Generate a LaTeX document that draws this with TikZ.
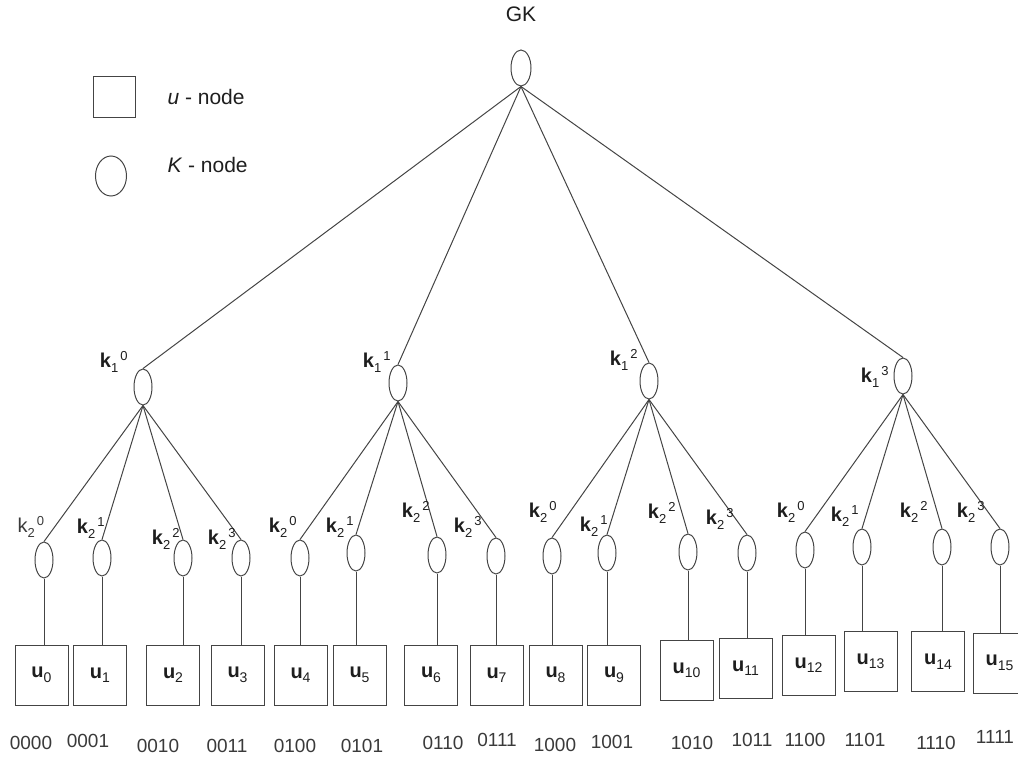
\documentclass[tikz,border=0pt]{standalone}
\usepackage{fontspec}
\setmainfont{Liberation Sans}
\usetikzlibrary{shapes.geometric}
\definecolor{edgegray}{HTML}{444444}
\definecolor{inkgray}{HTML}{1E1E1E}
\definecolor{codegray}{HTML}{3A3A3A}
% key label: k with subscript and superscript set side by side
\newcommand{\klab}[3][\bfseries]{{#1 k}\raisebox{-4.5pt}{\fontsize{13}{13}\selectfont #2}\hspace{2pt}\raisebox{7pt}{\fontsize{13}{13}\selectfont #3}}
% user label: bold u with subscript
\newcommand{\ulab}[1]{{\bfseries u}\raisebox{-4.5pt}{\fontsize{14}{14}\selectfont #1}}
\begin{document}
\begin{tikzpicture}[x=1pt,y=-1pt,
  line width=1pt,
  every node/.style={text=inkgray},
  kell/.style={ellipse, draw=edgegray, minimum width=18pt, minimum height=36pt, inner sep=0pt},
  ubox/.style={draw=edgegray, minimum width=53pt, minimum height=60pt, inner sep=0pt, font=\fontsize{20}{22}\selectfont},
  klabel/.style={font=\fontsize{20}{22}\selectfont, inner sep=0pt},
  code/.style={font=\fontsize{19}{21}\selectfont, text=codegray, inner sep=0pt},
  legtext/.style={font=\fontsize{21}{23}\selectfont, anchor=west, inner sep=0pt},
  link/.style={draw=edgegray}]
\useasboundingbox (0,0) rectangle (1018,758);

% legend
\node[draw=edgegray, minimum width=42pt, minimum height=41pt, inner sep=0pt] (lgbox) at (114,97) {};
\node[legtext] (lgu) at (167,97) {\textit{u} - node};
\node[ellipse, draw=edgegray, minimum width=31pt, minimum height=40pt, inner sep=0pt] (lgell) at (111,176) {};
\node[legtext] (lgk) at (167,165) {\textit{K} - node};

% root
\node[font=\fontsize{21}{23}\selectfont, inner sep=0pt] (gktext) at (521,14) {GK};
\node[kell, minimum width=20pt] (gk) at (521,68) {};

% first level keys
\foreach \n/\x/\y in {0/143/387,1/398/383,2/649/381,3/903/376}{
  \node[kell] (k1\n) at (\x,\y) {};
  \draw[link] (gk.south) -- (k1\n.north);
}
\node[klabel] (lk10) at (111,362) {\klab{1}{0}};
\node[klabel] (lk11) at (374,362) {\klab{1}{1}};
\node[klabel] (lk12) at (621,360) {\klab{1}{2}};
\node[klabel] (lk13) at (872,377) {\klab{1}{3}};

% second level keys
\foreach \i/\p/\x/\y in {0/0/44/560,1/0/102/558,2/0/183/558,3/0/241/558,
                         4/1/300/558,5/1/356/553,6/1/437/555,7/1/496/556,
                         8/2/552/556,9/2/607/553,10/2/688/552,11/2/747/553,
                         12/3/805/550,13/3/862/547,14/3/942/547,15/3/1000/547}{
  \node[kell] (e\i) at (\x,\y) {};
  \draw[link] (k1\p.south) -- (e\i.north);
}
\node[klabel, text=codegray] (l0) at (28,527) {\klab[\mdseries]{2}{0}};
\node[klabel] (l1) at (88,528) {\klab{2}{1}};
\node[klabel] (l2) at (163,539) {\klab{2}{2}};
\node[klabel] (l3) at (219,539) {\klab{2}{3}};
\node[klabel] (l4) at (280,527) {\klab{2}{0}};
\node[klabel] (l5) at (337,527) {\klab{2}{1}};
\node[klabel] (l6) at (413,512) {\klab{2}{2}};
\node[klabel] (l7) at (465,527) {\klab{2}{3}};
\node[klabel] (l8) at (540,512) {\klab{2}{0}};
\node[klabel] (l9) at (591,526) {\klab{2}{1}};
\node[klabel] (l10) at (659,513) {\klab{2}{2}};
\node[klabel] (l11) at (717,519) {\klab{2}{3}};
\node[klabel] (l12) at (788,512) {\klab{2}{0}};
\node[klabel] (l13) at (842,516) {\klab{2}{1}};
\node[klabel] (l14) at (911,512) {\klab{2}{2}};
\node[klabel] (l15) at (968,512) {\klab{2}{3}};

% user nodes
\foreach \i/\x/\y in {0/41.5/675,1/100/675,2/173/675,3/237.5/675,
                      4/300.5/675,5/359.5/675,6/431/675,7/496.5/675,
                      8/555.5/675,9/614/675,10/686.5/670.5,11/745.5/668,
                      12/808.5/665,13/870.5/661.5,14/938/661.5,15/999.5/663}{
  \node[ubox] (u\i) at (\x,\y) {\raisebox{3pt}{\ulab{\i}}};
  \draw[link] (e\i.south) -- (e\i.south |- u\i.north);
}

% identifiers
\foreach \i/\x/\y/\t in {0/31/743/0000,1/88/741/0001,2/158/746/0010,3/227/746/0011,
                         4/295/746/0100,5/362/746/0101,6/443/743/0110,7/497/740/0111,
                         8/555/745/1000,9/612/742/1001,10/692/743/1010,11/752/740/1011,
                         12/805/740/1100,13/865/740/1101,14/936/743/1110,15/995/737/1111}{
  \node[code] (c\i) at (\x,\y) {\t};
}
\end{tikzpicture}
\end{document}
